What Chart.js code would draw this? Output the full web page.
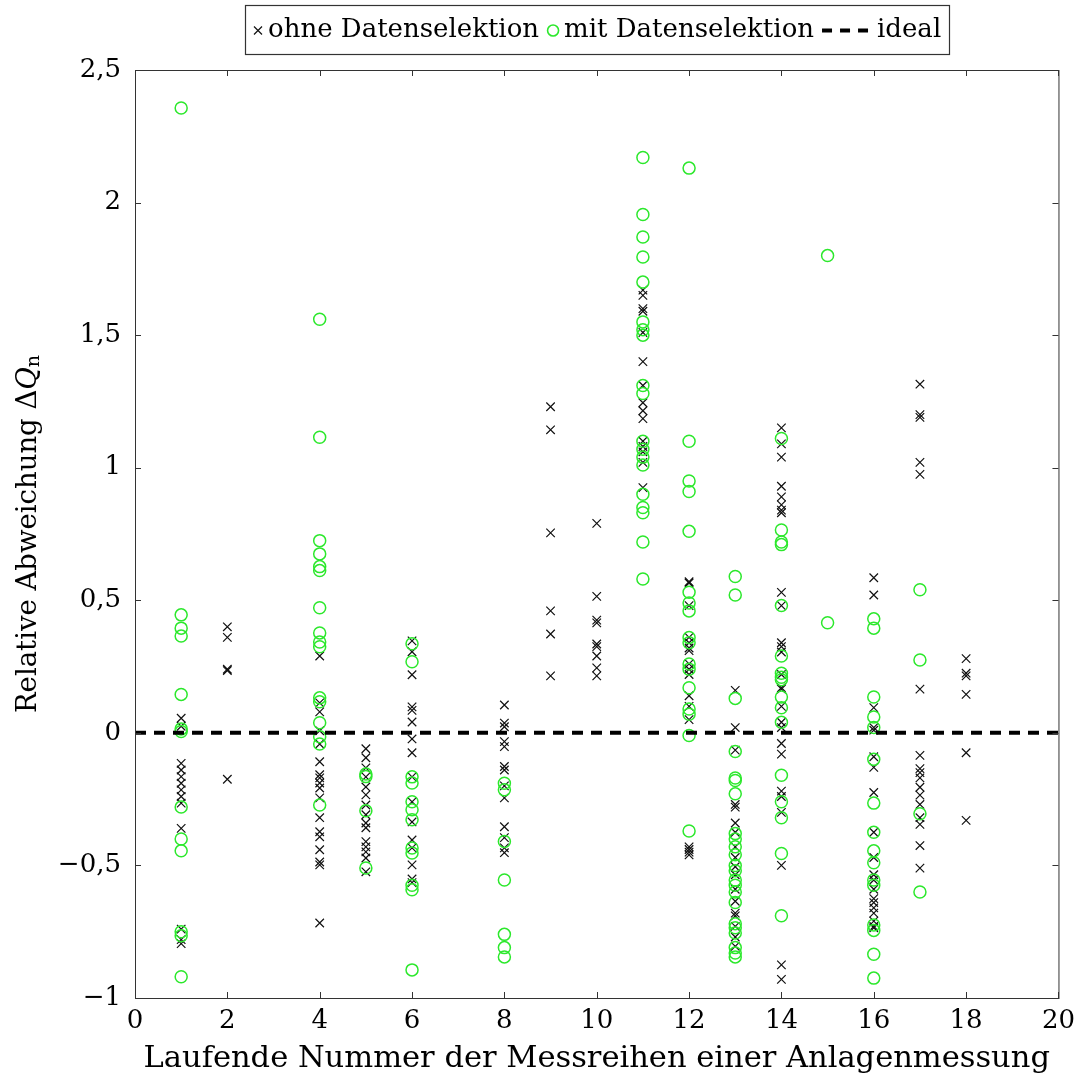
<!DOCTYPE html>
<html>
<head>
<meta charset="utf-8">
<script src="https://cdn.jsdelivr.net/npm/chart.js@4.4.1/dist/chart.umd.min.js"></script>
<style>
  html, body { margin: 0; padding: 0; background: #fff; }
</style>
</head>
<body>
<canvas id="chart" width="1083" height="1079"></canvas>
<script>
// Laufende Nummer der Messreihe (x-Position jeder Spalte)
const runs = [1, 2, 4, 5, 6, 8, 9, 10, 11, 12, 13, 14, 15, 16, 17, 18];

// Relative Abweichung ohne Datenselektion, je Messreihe
const ohneWerte = [
    [0.055, 0.025, -0.115, -0.14, -0.165, -0.19, -0.215, -0.24, -0.265, -0.36, -0.74, -0.78, -0.795],
    [0.40, 0.36, 0.24, 0.235, -0.175],
    [0.29, 0.113, 0.079, 0.008, -0.042, -0.109, -0.158, -0.17, -0.189, -0.208, -0.245, -0.32, -0.373, -0.392, -0.441, -0.487, -0.498, -0.717],
    [-0.06, -0.094, -0.132, -0.166, -0.204, -0.234, -0.272, -0.309, -0.34, -0.358, -0.41, -0.43, -0.449, -0.472, -0.524],
    [0.347, 0.306, 0.219, 0.098, 0.085, 0.041, -0.023, -0.075, -0.166, -0.26, -0.336, -0.404, -0.434, -0.498, -0.551, -0.565],
    [0.105, 0.037, 0.023, -0.033, -0.052, -0.127, -0.14, -0.2, -0.245, -0.354, -0.395, -0.434, -0.452],
    [1.23, 1.143, 0.754, 0.46, 0.373, 0.215],
    [0.79, 0.515, 0.425, 0.415, 0.335, 0.325, 0.29, 0.245, 0.215],
    [1.67, 1.65, 1.60, 1.59, 1.51, 1.40, 1.31, 1.245, 1.215, 1.185, 1.10, 1.08, 1.06, 1.02, 0.925],
    [0.57, 0.565, 0.48, 0.36, 0.34, 0.32, 0.31, 0.26, 0.24, 0.22, 0.14, 0.10, 0.05, -0.43, -0.44, -0.45, -0.46],
    [0.16, 0.02, -0.065, -0.27, -0.28, -0.34, -0.375, -0.43, -0.47, -0.505, -0.535, -0.59, -0.635, -0.68, -0.69, -0.73, -0.77, -0.805],
    [1.15, 1.09, 1.04, 0.93, 0.89, 0.86, 0.84, 0.83, 0.53, 0.48, 0.34, 0.325, 0.305, 0.22, 0.17, 0.165, 0.10, 0.04, 0.02, -0.04, -0.08, -0.22, -0.24, -0.30, -0.50, -0.875, -0.93],
    [],
    [0.585, 0.52, 0.095, 0.02, 0.01, -0.09, -0.13, -0.225, -0.375, -0.47, -0.535, -0.555, -0.59, -0.625, -0.64, -0.66, -0.68, -0.71, -0.73, -0.735],
    [1.315, 1.20, 1.19, 1.02, 0.975, 0.165, -0.085, -0.135, -0.15, -0.17, -0.205, -0.235, -0.27, -0.32, -0.345, -0.425, -0.51],
    [0.28, 0.225, 0.215, 0.145, -0.075, -0.33]
];

// Relative Abweichung mit Datenselektion, je Messreihe
const mitWerte = [
    [2.357, 0.445, 0.395, 0.365, 0.145, 0.015, 0.005, -0.28, -0.40, -0.445, -0.75, -0.765, -0.92],
    [],
    [1.56, 1.115, 0.725, 0.675, 0.627, 0.612, 0.472, 0.377, 0.343, 0.325, 0.132, 0.117, 0.038, -0.015, -0.042, -0.272],
    [-0.155, -0.165, -0.294, -0.51],
    [0.336, 0.268, -0.166, -0.189, -0.26, -0.29, -0.328, -0.434, -0.453, -0.575, -0.592, -0.894],
    [-0.19, -0.215, -0.41, -0.555, -0.76, -0.81, -0.845],
    [],
    [],
    [2.17, 1.955, 1.87, 1.795, 1.70, 1.55, 1.52, 1.50, 1.31, 1.28, 1.10, 1.07, 1.04, 1.01, 0.90, 0.85, 0.83, 0.72, 0.58],
    [2.13, 1.10, 0.95, 0.91, 0.76, 0.53, 0.49, 0.46, 0.36, 0.34, 0.26, 0.24, 0.17, 0.09, 0.07, -0.01, -0.37],
    [0.59, 0.52, 0.13, -0.07, -0.17, -0.18, -0.23, -0.38, -0.40, -0.43, -0.46, -0.50, -0.52, -0.555, -0.575, -0.60, -0.64, -0.72, -0.735, -0.755, -0.81, -0.83, -0.845],
    [1.11, 0.765, 0.72, 0.71, 0.48, 0.29, 0.225, 0.21, 0.20, 0.135, 0.095, 0.04, -0.16, -0.26, -0.32, -0.455, -0.69],
    [1.80, 0.415],
    [0.43, 0.395, 0.135, 0.06, 0.02, -0.10, -0.265, -0.375, -0.445, -0.49, -0.555, -0.575, -0.725, -0.745, -0.835, -0.925],
    [0.54, 0.275, -0.305, -0.60],
    []
];

// ideale Linie
const idealX = [0, 20];
const idealY = [0, 0];

// Achsenbeschriftung
const xTicks = [0, 2, 4, 6, 8, 10, 12, 14, 16, 18, 20];
const yTicks = [-1, -0.5, 0, 0.5, 1, 1.5, 2, 2.5];

const serif = 'DejaVu Serif';
const gruen = 'rgb(44, 232, 44)';
const schwarz = '#111';

function toPoints(werte) {
    const pts = [];
    werte.forEach(function(liste, i) {
        liste.forEach(function(v) { pts.push({x: runs[i], y: v}); });
    });
    return pts;
}

function deZahl(v) {
    return String(v).replace('.', ',').replace('-', '\u2212');
}

// Rahmen, Innenticks, Legende und y-Titel
const extras = {
    id: 'extras',
    afterDraw(chart) {
        const ctx = chart.ctx;
        const a = chart.chartArea;
        const xs = chart.scales.x, ys = chart.scales.y;
        ctx.save();
        ctx.strokeStyle = '#333';
        ctx.lineWidth = 1;
        ctx.strokeRect(a.left + 0.5, a.top + 0.5, a.right - a.left, a.bottom - a.top);
        ctx.beginPath();
        xTicks.forEach(function(v) {
            const px = Math.round(xs.getPixelForValue(v)) + 0.5;
            ctx.moveTo(px, a.bottom); ctx.lineTo(px, a.bottom - 6);
            ctx.moveTo(px, a.top); ctx.lineTo(px, a.top + 6);
        });
        yTicks.forEach(function(v) {
            const py = Math.round(ys.getPixelForValue(v)) + 0.5;
            ctx.moveTo(a.left, py); ctx.lineTo(a.left + 6, py);
            ctx.moveTo(a.right, py); ctx.lineTo(a.right - 6, py);
        });
        ctx.stroke();

        // Legende
        ctx.font = '26px "' + serif + '"';
        ctx.textBaseline = 'middle';
        ctx.fillStyle = '#000';
        const items = [
            {sym: 'cross', w: 10, text: 'ohne Datenselektion'},
            {sym: 'circle', w: 12, text: 'mit Datenselektion'},
            {sym: 'line', w: 46, text: 'ideal'}
        ];
        const pad = 8, gapSym = 5, gapItem = 8;
        let total = pad * 2 + 4;
        items.forEach(function(it, i) {
            it.tw = ctx.measureText(it.text).width;
            total += it.w + gapSym + it.tw + (i < items.length - 1 ? gapItem : 0);
        });
        const cx = (a.left + a.right) / 2;
        const boxL = Math.round(cx - total / 2), boxT = 5, boxH = 49;
        const midY = boxT + boxH / 2 + 1;
        ctx.strokeStyle = '#333';
        ctx.lineWidth = 1.2;
        ctx.strokeRect(boxL + 0.5, boxT + 0.5, Math.round(total), boxH);
        let x = boxL + pad;
        items.forEach(function(it) {
            const sx = x + it.w / 2;
            if (it.sym === 'cross') {
                ctx.strokeStyle = schwarz; ctx.lineWidth = 1.2;
                ctx.beginPath();
                ctx.moveTo(sx - 4, midY - 4); ctx.lineTo(sx + 4, midY + 4);
                ctx.moveTo(sx + 4, midY - 4); ctx.lineTo(sx - 4, midY + 4);
                ctx.stroke();
            } else if (it.sym === 'circle') {
                ctx.strokeStyle = gruen; ctx.lineWidth = 1.6;
                ctx.beginPath(); ctx.arc(sx, midY, 5.5, 0, Math.PI * 2); ctx.stroke();
            } else {
                ctx.strokeStyle = '#000'; ctx.lineWidth = 4;
                ctx.setLineDash([10, 8]);
                ctx.beginPath(); ctx.moveTo(x, midY); ctx.lineTo(x + it.w, midY); ctx.stroke();
                ctx.setLineDash([]);
                x += 4;
            }
            x += it.w + gapSym;
            ctx.fillStyle = '#000';
            ctx.fillText(it.text, x, midY);
            x += it.tw + gapItem;
        });

        // y-Achsentitel: Relative Abweichung ΔQ_n
        const yMid = (a.top + a.bottom) / 2;
        const fNorm = '27.5px "' + serif + '"';
        const fItal = 'italic 27.5px "' + serif + '"';
        const fSub = '19px "' + serif + '"';
        const parts = [
            {t: 'Relative Abweichung \u0394', f: fNorm, dy: 0},
            {t: 'Q', f: fItal, dy: 0},
            {t: 'n', f: fSub, dy: 5}
        ];
        let tw = 0;
        parts.forEach(function(p) { ctx.font = p.f; p.w = ctx.measureText(p.t).width; tw += p.w; });
        ctx.translate(29, yMid);
        ctx.rotate(-Math.PI / 2);
        ctx.textBaseline = 'middle';
        let tx = -tw / 2;
        parts.forEach(function(p) {
            ctx.font = p.f;
            ctx.fillText(p.t, tx, p.dy);
            tx += p.w;
        });
        ctx.restore();
    }
};

const ctx = document.getElementById('chart').getContext('2d');
new Chart(ctx, {
    type: 'scatter',
    data: {
        datasets: [{
            label: 'ohne Datenselektion',
            data: toPoints(ohneWerte),
            pointStyle: 'crossRot',
            pointRadius: 6,
            borderColor: schwarz,
            borderWidth: 1.2,
            backgroundColor: 'rgba(0,0,0,0)',
            order: 2
        }, {
            label: 'mit Datenselektion',
            data: toPoints(mitWerte),
            pointStyle: 'circle',
            pointRadius: 6,
            borderColor: gruen,
            borderWidth: 1.5,
            backgroundColor: 'rgba(0,0,0,0)',
            order: 1
        }, {
            type: 'line',
            label: 'ideal',
            data: idealX.map(function(v, i) { return {x: v, y: idealY[i]}; }),
            borderColor: '#000',
            borderWidth: 4,
            borderDash: [11, 8],
            pointRadius: 0,
            fill: false,
            order: 0
        }]
    },
    options: {
        responsive: false,
        animation: false,
        events: [],
        devicePixelRatio: 1,
        layout: {
            padding: {top: 70, right: 21, bottom: 0, left: 0}
        },
        plugins: {
            legend: {display: false},
            tooltip: {enabled: false}
        },
        scales: {
            x: {
                type: 'linear',
                min: 0,
                max: 20,
                grid: {display: false, drawTicks: false},
                border: {display: false},
                afterBuildTicks: function(s) { s.ticks = xTicks.map(function(v) { return {value: v}; }); },
                afterFit: function(s) { s.height = 81; },
                ticks: {
                    color: '#000',
                    font: {family: serif, size: 26},
                    padding: 8,
                    maxRotation: 0,
                    callback: function(v) { return deZahl(v); }
                },
                title: {
                    display: true,
                    text: 'Laufende Nummer der Messreihen einer Anlagenmessung',
                    color: '#000',
                    font: {family: serif, size: 30.5},
                    padding: {top: 0, bottom: 2}
                }
            },
            y: {
                type: 'linear',
                min: -1,
                max: 2.5,
                grid: {display: false, drawTicks: false},
                border: {display: false},
                afterBuildTicks: function(s) { s.ticks = yTicks.map(function(v) { return {value: v}; }); },
                afterFit: function(s) { s.width = 135; },
                ticks: {
                    color: '#000',
                    font: {family: serif, size: 26},
                    padding: 14,
                    callback: function(v) { return deZahl(v); }
                }
            }
        }
    },
    plugins: [extras]
});
</script>
</body>
</html>
